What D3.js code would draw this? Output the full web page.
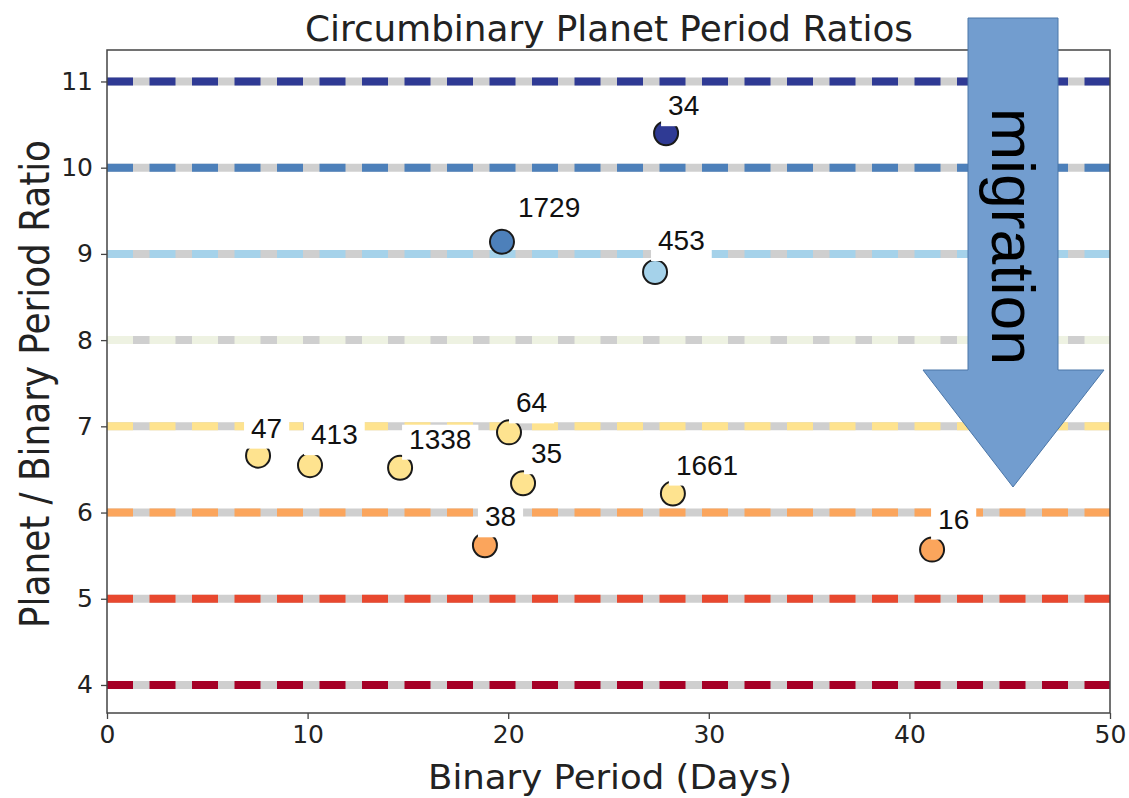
<!DOCTYPE html>
<html><head><meta charset="utf-8">
<script src="https://cdn.jsdelivr.net/npm/d3@7"></script>
<style>body{margin:0;background:#fff}</style>
</head><body>
<svg id="chart" width="1129" height="798"></svg>
<script>
// Circumbinary systems (Kepler numbers), binary period and planet/binary period ratio
const systems = ["34","1729","453","47","413","1338","64","35","1661","38","16"];
const binaryPeriod = [27.87,19.69,27.32,7.53,10.12,14.61,20.04,20.74,28.21,18.84,41.13];
const periodRatio = [10.40,9.14,8.79,6.66,6.55,6.52,6.93,6.34,6.22,5.62,5.57];

// Integer period-ratio reference lines and their colours
const resonances = [4,5,6,7,8,9,10,11];
const resonanceColors = ["#a50026","#e8482f","#fba55c","#fee38f","#eef2e2","#a5d2ea","#4d80ba","#2f3a94"];

const xTicks = [0,10,20,30,40,50];
const yTicks = [4,5,6,7,8,9,10,11];

// hand-placed label offsets (px) from each point
const labelOffsets = [[2,-18],[16,-25],[3,-22],[-7,-18],[1,-21],[9,-19],[7,-20],[8,-20],[3,-19],[0,-19],[6,-21]];

const svg = d3.select("#chart");
const L = 107, R = 1110, T = 50, B = 713;

const x = d3.scaleLinear().domain([0, 50]).range([L, R]);
const y = d3.scaleLinear().domain([3.675, 11.365]).range([B, T]);
const colorOf = d3.scaleOrdinal().domain(resonances).range(resonanceColors);

// reference lines: grey underlay with coloured dashes on top
const lines = svg.append("g");
resonances.forEach(r => {
  lines.append("line")
    .attr("x1", x(0)).attr("x2", x(50)).attr("y1", y(r)).attr("y2", y(r))
    .attr("stroke", "#cfcfcf").attr("stroke-width", 8);
  lines.append("line")
    .attr("x1", x(0)).attr("x2", x(50)).attr("y1", y(r)).attr("y2", y(r))
    .attr("stroke", colorOf(r)).attr("stroke-width", 8)
    .attr("stroke-dasharray", "26 16.5");
});

const pts = systems.map((s, i) => ({name: s, p: binaryPeriod[i], r: periodRatio[i], off: labelOffsets[i]}));

// planets, coloured by the next integer ratio above them
svg.append("g").selectAll("circle").data(pts).join("circle")
  .attr("cx", d => x(d.p)).attr("cy", d => y(d.r)).attr("r", 12)
  .attr("fill", d => colorOf(Math.ceil(d.r)))
  .attr("stroke", "#1a1a1a").attr("stroke-width", 2);

// labels with white boxes
const lab = svg.append("g");
pts.forEach(d => {
  const g = lab.append("g");
  const t = g.append("text")
    .attr("x", x(d.p) + d.off[0]).attr("y", y(d.r) + d.off[1])
    .attr("font-family", "Liberation Sans, Arial, sans-serif")
    .attr("font-size", 28).attr("fill", "#111")
    .text(d.name);
  const bb = t.node().getBBox();
  g.insert("rect", "text")
    .attr("x", bb.x - 7).attr("y", bb.y + 1)
    .attr("width", bb.width + 14).attr("height", bb.height + 4)
    .attr("fill", "#fff");
});

// frame
svg.append("rect").attr("x", L).attr("y", T).attr("width", R - L).attr("height", B - T)
  .attr("fill", "none").attr("stroke", "#444").attr("stroke-width", 1.5);

// axes
const xAxis = svg.append("g").attr("transform", `translate(0,${B})`)
  .call(d3.axisBottom(x).tickValues(xTicks).tickSize(6).tickPadding(6).tickFormat(d3.format("d")));
const yAxis = svg.append("g").attr("transform", `translate(${L},0)`)
  .call(d3.axisLeft(y).tickValues(yTicks).tickSize(6).tickPadding(8).tickFormat(d3.format("d")));
[xAxis, yAxis].forEach(a => {
  a.select(".domain").remove();
  a.selectAll(".tick line").attr("stroke", "#444").attr("stroke-width", 1.3);
  a.selectAll(".tick text").attr("font-family", "DejaVu Sans, sans-serif")
    .attr("font-size", 25).attr("fill", "#222");
});

// titles
svg.append("text").attr("x", 609).attr("y", 41).attr("text-anchor", "middle")
  .attr("font-family", "DejaVu Sans, sans-serif").attr("font-size", 35).attr("fill", "#222")
  .attr("textLength", 608).attr("lengthAdjust", "spacingAndGlyphs")
  .text("Circumbinary Planet Period Ratios");
svg.append("text").attr("x", 610).attr("y", 789).attr("text-anchor", "middle")
  .attr("font-family", "DejaVu Sans, sans-serif").attr("font-size", 33).attr("fill", "#222")
  .attr("textLength", 364).attr("lengthAdjust", "spacingAndGlyphs")
  .text("Binary Period (Days)");
svg.append("text").attr("transform", "translate(49,384) rotate(-90)").attr("text-anchor", "middle")
  .attr("font-family", "Liberation Sans Narrow, DejaVu Sans Condensed, sans-serif")
  .attr("font-size", 41).attr("fill", "#222")
  .attr("textLength", 488).attr("lengthAdjust", "spacingAndGlyphs")
  .text("Planet / Binary Period Ratio");

// migration arrow
const arrow = [[968,18],[1058,18],[1058,370],[1104,370],[1013,487],[923,370],[968,370]];
svg.append("path").attr("d", d3.line()(arrow) + "Z")
  .attr("fill", "#729dcf").attr("stroke", "#4a76a8").attr("stroke-width", 1);
svg.append("text").attr("transform", "translate(992,108) rotate(90)")
  .attr("font-family", "Liberation Sans, Arial, sans-serif").attr("font-size", 62).attr("fill", "#000")
  .attr("textLength", 257).attr("lengthAdjust", "spacingAndGlyphs")
  .text("migration");
</script>
</body></html>
